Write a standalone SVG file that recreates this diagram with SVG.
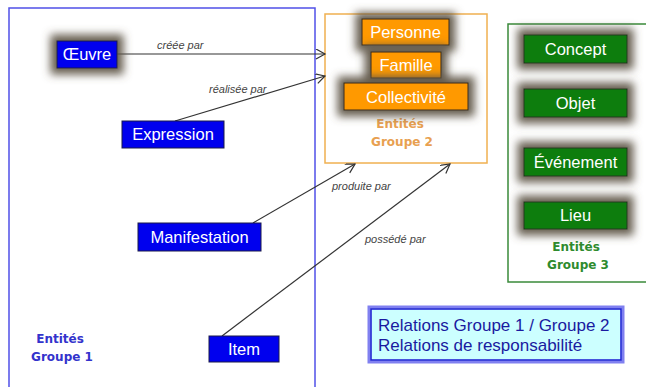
<svg xmlns="http://www.w3.org/2000/svg" width="646" height="387" viewBox="0 0 646 387">
<defs>
<filter id="glow" x="-50%" y="-100%" width="200%" height="300%">
<feMorphology in="SourceAlpha" operator="dilate" radius="6" result="d"/>
<feGaussianBlur in="d" stdDeviation="4" result="b"/>
<feFlood flood-color="#5f5647" flood-opacity="0.95"/>
<feComposite in2="b" operator="in" result="s"/>
<feMerge><feMergeNode in="s"/><feMergeNode in="SourceGraphic"/></feMerge>
</filter>
<marker id="arr" markerWidth="12" markerHeight="12" refX="10" refY="5" orient="auto" markerUnits="userSpaceOnUse">
<path d="M1,0 L10,5 L1,10" fill="none" stroke="#333" stroke-width="1.2"/>
</marker>
<style>
.blue{fill:#0000ee;stroke:#1a1a4a;stroke-width:1}
.orange{fill:#ff9900;stroke:#3a2a10;stroke-width:1}
.green{fill:#0a7d0a;stroke:#1a3a1a;stroke-width:1}
.nt{font-family:"Liberation Sans",Arial,sans-serif;font-size:16.5px;fill:#fff;text-anchor:middle}
.lab{font-family:"Liberation Sans",Arial,sans-serif;font-size:11px;font-style:italic;fill:#444}
.grp{font-family:"DejaVu Sans",sans-serif;font-size:12px;font-weight:bold;text-anchor:middle}
.conn{stroke:#333;stroke-width:1.2;fill:none;marker-end:url(#arr)}
.leg{font-family:"Liberation Sans",Arial,sans-serif;font-size:17px;fill:#1a1aa0}
</style>
</defs>
<rect width="646" height="387" fill="#fff"/>
<g id="groupe1">
<rect x="9" y="8" width="306" height="384" fill="none" stroke="#5050e8" stroke-width="1.5"/>
<text class="grp" fill="#3333cc" x="60" y="343">Entités</text>
<text class="grp" fill="#3333cc" x="62" y="361">Groupe 1</text>
</g>
<g id="groupe2">
<rect x="325" y="14" width="162" height="149" fill="none" stroke="#f0b050" stroke-width="1.5"/>
<text class="grp" fill="#e8a050" x="400" y="128">Entités</text>
<text class="grp" fill="#e8a050" x="402" y="146">Groupe 2</text>
</g>
<g id="groupe3">
<rect x="508" y="24" width="145" height="258" fill="none" stroke="#3a8a3a" stroke-width="1.5"/>
<text class="grp" fill="#2e8b2e" x="576" y="251">Entités</text>
<text class="grp" fill="#2e8b2e" x="578" y="269">Groupe 3</text>
</g>
<g id="connectors">
<line class="conn" x1="117" y1="54" x2="325" y2="54"/>
<line class="conn" x1="175" y1="121" x2="325" y2="76"/>
<line class="conn" x1="253" y1="223" x2="355" y2="164"/>
<line class="conn" x1="222" y1="336" x2="450" y2="164"/>
<text class="lab" x="157" y="49">créée par</text>
<text class="lab" x="209" y="93">réalisée par</text>
<text class="lab" x="332" y="190">produite par</text>
<text class="lab" x="365" y="243">possédé par</text>
</g>
<g id="oeuvre"><rect class="blue" x="57" y="41" width="60" height="27" filter="url(#glow)"/><text class="nt" x="87" y="60">Œuvre</text></g>
<g id="expression"><rect class="blue" x="122" y="121" width="102" height="27"/><text class="nt" x="173" y="140">Expression</text></g>
<g id="manifestation"><rect class="blue" x="138" y="223" width="123" height="28"/><text class="nt" x="199.5" y="243">Manifestation</text></g>
<g id="item"><rect class="blue" x="209" y="336" width="70" height="26"/><text class="nt" x="244" y="355">Item</text></g>
<g id="personne"><rect class="orange" x="362" y="19" width="87" height="26" filter="url(#glow)"/><text class="nt" x="405.5" y="38">Personne</text></g>
<g id="famille"><rect class="orange" x="371" y="52" width="70" height="26" filter="url(#glow)"/><text class="nt" x="406" y="71">Famille</text></g>
<g id="collectivite"><rect class="orange" x="344" y="83" width="124" height="27" filter="url(#glow)"/><text class="nt" x="406" y="103">Collectivité</text></g>
<g id="concept"><rect class="green" x="524" y="35" width="103" height="28" filter="url(#glow)"/><text class="nt" x="575.5" y="55">Concept</text></g>
<g id="objet"><rect class="green" x="524" y="89" width="103" height="28" filter="url(#glow)"/><text class="nt" x="575.5" y="109">Objet</text></g>
<g id="evenement"><rect class="green" x="524" y="148" width="103" height="28" filter="url(#glow)"/><text class="nt" x="575.5" y="168">Événement</text></g>
<g id="lieu"><rect class="green" x="524" y="202" width="103" height="27" filter="url(#glow)"/><text class="nt" x="575.5" y="221">Lieu</text></g>
<g id="legende">
<rect x="369" y="307" width="254" height="55" fill="#ccffff" stroke="#8080f0" stroke-width="3"/>
<rect x="371" y="309" width="250" height="51" fill="none" stroke="#1a1ad0" stroke-width="1.5"/>
<text class="leg" x="378" y="331">Relations Groupe 1 / Groupe 2</text>
<text class="leg" x="378" y="351">Relations de responsabilité</text>
</g>
</svg>
